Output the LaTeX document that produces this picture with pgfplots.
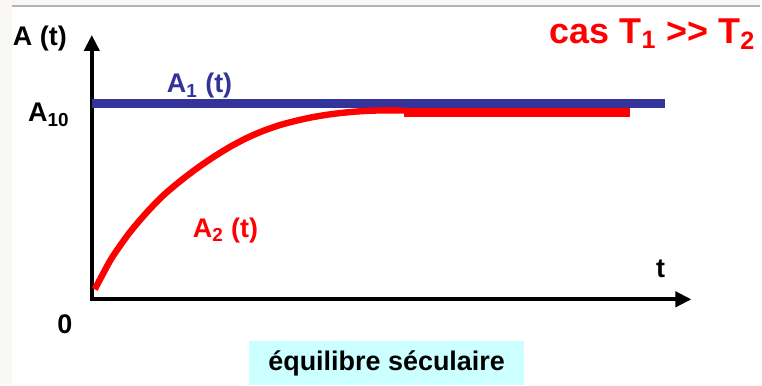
\documentclass[border=0pt]{standalone}
\usepackage{pgfplots}
\pgfplotsset{compat=1.18}
\usetikzlibrary{arrows.meta}
\usepackage{fontspec}
\setmainfont{Liberation Sans}

\definecolor{ablue}{HTML}{333399}
\definecolor{ared}{HTML}{FF0000}
\definecolor{boxcyan}{HTML}{CCFFFF}
\definecolor{paper}{HTML}{FAF8F5}

\begin{document}
\begin{tikzpicture}
\begin{axis}[
    set layers,
    x=0.5pt, y=0.5pt,
    xmin=92, xmax=693,
    ymin=0, ymax=265,
    axis lines=left,
    axis line style={line width=2pt, line cap=rect, -{Triangle[length=8pt,width=7.5pt]}},
    ticks=none,
    clip=false,
]
% page frame, behind everything
\begin{pgfonlayer}{axis background}
\fill[paper] (axis cs:0,-85) rectangle (axis cs:762,300);
\fill[white] (axis cs:12,-85) rectangle (axis cs:762,294);
\draw[gray!60, line width=0.6pt] (axis cs:12,294) -- (axis cs:762,294);
\end{pgfonlayer}

% A1(t)
\addplot[ablue, line width=4.5pt] coordinates {(92,196.5) (667,196.5)};
% A2(t)
\addplot[ared, line width=3.2pt, smooth, tension=0.5] coordinates {
    (95,10) (104,27) (113,43) (130,67) (147,87) (163,103.5) (180,118)
    (197,131) (213,142) (230,152.5) (247,161.5) (263,168.5) (280,174.5)
    (297,179) (313,182.5) (330,185.3) (347,187.3) (363,188.6) (380,189.3)
    (393,189.4) (405,189.2)
};
\addplot[ared, line width=4.5pt] coordinates {(405,187.5) (631,187.5)};

\node[font=\fontsize{13.5}{15}\bfseries\selectfont] at (axis cs:40,261) {A (t)};
\node[font=\fontsize{13.5}{15}\bfseries\selectfont] at (axis cs:49,185) {A\textsubscript{10}};
\node[font=\fontsize{13.5}{15}\bfseries\selectfont] at (axis cs:65,-25) {0};
\node[font=\fontsize{13.5}{15}\bfseries\selectfont] at (axis cs:662,31) {t};
\node[font=\fontsize{13.5}{15}\bfseries\selectfont, text=ablue] at (axis cs:200,214) {A\textsubscript{1} (t)};
\node[font=\fontsize{13.5}{15}\bfseries\selectfont, text=ared] at (axis cs:226,69) {A\textsubscript{2} (t)};
\node[font=\fontsize{18}{20}\bfseries\selectfont, text=ared] at (axis cs:654,266) {cas T\textsubscript{1} >{}> T\textsubscript{2}};
\node[fill=boxcyan, inner sep=0pt, minimum width=137.5pt, minimum height=22pt,
      font=\fontsize{13.5}{15}\bfseries\selectfont] at (axis cs:387.5,-64) {équilibre séculaire};
\end{axis}
\end{tikzpicture}
\end{document}
